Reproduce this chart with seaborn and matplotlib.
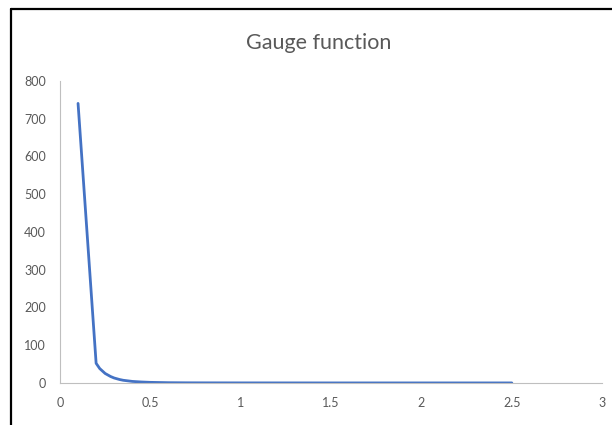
import matplotlib
matplotlib.use("Agg")
import matplotlib.pyplot as plt
import seaborn as sns
import pandas as pd
from matplotlib.lines import Line2D

# values
x_vals = [0.1, 0.2, 0.22, 0.25, 0.28, 0.3, 0.33, 0.35, 0.4, 0.45, 0.5, 0.6, 0.7, 0.8, 1.0, 1.5, 2.0, 2.5]
y_vals = [740, 52, 38, 25, 17, 13, 9, 7, 4, 2.5, 1.5, 0.6, 0.3, 0.2, 0.1, 0, 0, 0]
x_ticks = [0, 0.5, 1, 1.5, 2, 2.5, 3]
x_labels = ["0", "0.5", "1", "1.5", "2", "2.5", "3"]
y_ticks = [0, 100, 200, 300, 400, 500, 600, 700, 800]

df = pd.DataFrame({"x": x_vals, "y": y_vals})

sns.set_theme(style="white")
plt.rcParams["font.family"] = ["Lato", "DejaVu Sans"]

fig = plt.figure(figsize=(6.12, 4.25), dpi=100)
ax = fig.add_axes([0.098, 0.099, 0.886, 0.711])

sns.lineplot(data=df, x="x", y="y", ax=ax, color="#4472C4", linewidth=2.0, sort=False)

ax.set_xlim(0, 3)
ax.set_ylim(0, 800)
ax.set_xticks(x_ticks)
ax.set_xticklabels(x_labels)
ax.set_yticks(y_ticks)
ax.set_xlabel("")
ax.set_ylabel("")
ax.tick_params(axis="both", length=0, labelsize=9, labelcolor="#595959")
ax.tick_params(axis="x", pad=10)
ax.tick_params(axis="y", pad=10)

for side in ["top", "right"]:
    ax.spines[side].set_visible(False)
ax.spines["left"].set_color("#BFBFBF")
ax.spines["bottom"].set_color("#BFBFBF")
ax.spines["left"].set_linewidth(0.8)
ax.spines["bottom"].set_linewidth(0.8)

fig.text(0.52, 0.898, "Gauge function", ha="center", va="center",
         fontsize=15.5, color="#595959")

# black frame on the left and top edges, as in the screenshot
fig.add_artist(Line2D([0.018, 0.018], [0.0, 0.978], transform=fig.transFigure,
                      color="black", linewidth=1.6))
fig.add_artist(Line2D([0.018, 1.0], [0.978, 0.978], transform=fig.transFigure,
                      color="black", linewidth=1.6))

fig.savefig("out.png", dpi=100)
